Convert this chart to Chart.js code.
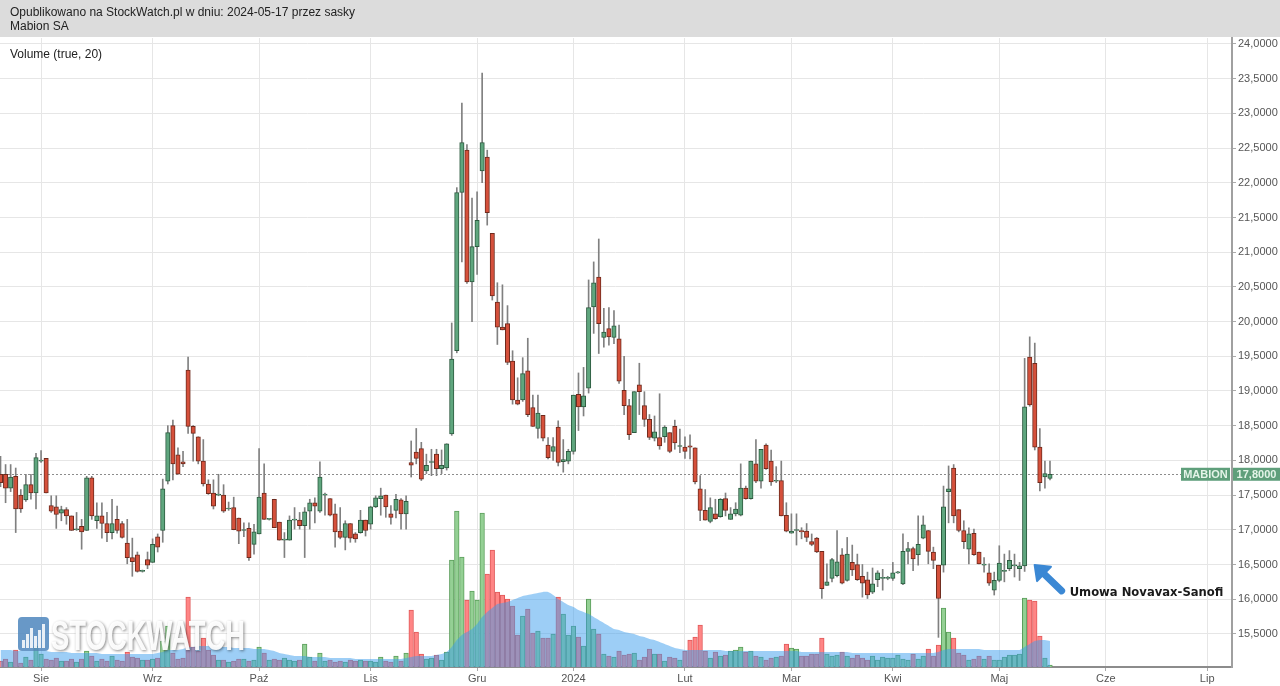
<!DOCTYPE html>
<html><head><meta charset="utf-8">
<script src="https://cdn.jsdelivr.net/npm/chart.js@4.4.1/dist/chart.umd.min.js"></script>
<style>
html,body{margin:0;padding:0;background:#fff;}
#wrap{position:relative;width:1280px;height:686px;overflow:hidden;background:#fff;}
canvas{position:absolute;left:0;top:0;}
#hdr{position:absolute;left:0;top:0;width:1280px;height:37px;background:#dcdcdc;font:12px "Liberation Sans",Arial,sans-serif;color:#222;}
#hdr div{position:absolute;left:10px;white-space:nowrap;}
#vol{position:absolute;left:10px;top:47px;font:12px "Liberation Sans",Arial,sans-serif;color:#222;}
</style></head><body>
<div id="wrap">
<canvas id="c" width="1280" height="686"></canvas>
<div id="hdr"><div style="top:5px">Opublikowano na StockWatch.pl w dniu: 2024-05-17 przez sasky</div><div style="top:19px">Mabion SA</div></div>
<div id="vol">Volume (true, 20)</div>
</div>
<script>
// ---- DATA (session index 0 = 2023-08-01, one step per trading session) ----
const firstIndex = -8;
const opens = [
 17.80,17.80,17.60,17.77,17.50,17.43,17.65,17.53,
 17.99,18.03,17.35,17.33,17.24,17.29,17.20,17.00,17.05,16.99,
 17.75,17.13,17.20,17.09,16.96,17.15,17.09,16.81,16.60,16.64,
 16.40,16.57,16.53,16.90,16.99,17.70,18.50,18.08,17.98,19.30,
 18.49,18.34,17.99,17.66,17.53,17.50,17.50,17.30,17.32,17.17,
 16.99,17.02,16.79,16.94,17.53,17.15,17.44,17.11,16.85,16.85,
 17.14,17.14,17.06,17.27,17.39,17.27,17.50,17.45,17.23,16.98,
 16.89,17.09,16.94,16.96,17.14,17.08,17.33,17.45,17.50,17.23,
 17.28,17.43,17.23,17.97,18.12,18.17,17.85,17.97,18.09,17.88,
 17.89,18.38,19.58,21.86,22.47,20.57,21.08,22.17,22.37,21.27,
 20.28,19.92,19.97,19.43,18.87,18.87,19.29,18.76,18.46,18.65,
 18.22,18.13,18.48,17.98,17.99,18.13,18.95,18.77,19.04,20.21,
 20.64,19.77,19.90,19.77,19.75,19.01,18.79,18.40,19.09,18.79,
 18.59,18.32,18.33,18.34,18.40,18.49,18.20,18.19,18.21,18.18,
 17.59,17.28,17.12,17.23,17.19,17.45,17.15,17.23,17.21,17.60,
 17.45,17.95,17.70,18.22,17.99,17.70,17.71,17.21,16.95,16.99,
 16.99,16.98,16.83,16.88,16.69,16.20,16.30,16.34,16.64,16.27,
 16.53,16.50,16.33,16.28,16.10,16.28,16.30,16.30,16.30,16.38,
 16.22,16.69,16.73,16.64,16.88,16.99,16.68,16.49,16.49,17.55,
 17.89,17.29,16.99,16.72,16.95,16.68,16.49,16.38,16.13,16.27,
 16.40,16.44,16.48,16.44,16.48,19.49,19.40,18.19,17.76,17.74];
const highs = [
 18.06,17.94,17.94,17.89,17.58,17.80,17.80,18.10,
 18.14,18.03,17.49,17.49,17.34,17.32,17.20,17.25,17.15,17.77,
 17.77,17.39,17.39,17.25,17.44,17.34,17.12,17.15,16.88,16.68,
 16.42,16.68,16.87,16.94,17.73,18.50,18.58,18.18,18.13,19.49,
 18.50,18.34,18.30,17.72,17.72,17.80,17.65,17.40,17.47,17.17,
 17.10,17.10,17.08,18.17,17.95,17.16,17.44,17.11,16.96,17.20,
 17.32,17.25,17.32,17.44,17.46,17.98,17.53,17.45,17.37,17.32,
 17.13,17.09,16.96,17.28,17.14,17.34,17.49,17.60,17.50,17.35,
 17.51,17.45,17.49,18.28,18.46,18.26,18.09,18.16,18.16,18.15,
 18.24,19.98,21.93,23.15,22.55,21.78,21.87,23.58,22.47,21.27,
 20.56,20.53,20.23,19.58,19.19,19.48,19.76,18.94,18.94,18.65,
 18.33,18.33,18.57,18.30,18.16,18.94,19.26,19.34,20.60,20.86,
 21.19,20.19,20.20,20.16,19.95,19.50,18.88,18.99,19.40,18.99,
 18.66,18.64,18.96,18.50,18.40,18.58,18.45,18.34,18.37,18.18,
 17.78,17.58,17.46,17.44,17.45,17.53,17.32,17.39,17.95,17.63,
 17.99,18.30,18.16,18.24,18.15,17.91,17.99,17.39,17.23,17.23,
 17.03,17.09,16.94,16.89,16.69,16.51,16.59,16.99,16.73,16.89,
 16.78,16.65,16.50,16.39,16.45,16.41,16.43,16.33,16.53,16.40,
 16.94,16.82,16.75,17.20,17.20,16.99,16.75,16.49,17.63,17.92,
 17.94,17.29,17.13,17.03,17.01,16.68,16.60,16.51,16.39,16.77,
 16.65,16.70,16.65,16.53,19.47,19.78,19.69,18.46,17.99,17.99];
const lows = [
 17.62,17.39,17.55,16.96,17.25,17.41,17.44,17.30,
 17.97,17.53,17.25,17.02,17.13,17.08,16.99,16.99,16.72,16.99,
 17.15,17.02,16.88,16.83,16.87,16.95,16.88,16.51,16.33,16.39,
 16.39,16.44,16.53,16.68,16.82,17.66,17.72,17.80,17.91,18.39,
 17.99,17.95,17.63,17.51,17.30,17.49,17.25,17.28,17.00,16.80,
 16.90,16.56,16.65,16.94,17.15,17.14,17.03,16.85,16.60,16.85,
 17.01,17.01,16.60,17.01,17.10,17.25,17.21,17.20,16.75,16.87,
 16.71,16.82,16.82,16.95,16.91,17.01,17.32,17.21,17.18,17.08,
 17.17,17.01,17.01,17.76,17.95,17.71,17.81,17.78,17.78,17.81,
 17.86,18.36,19.55,20.86,20.55,20.00,20.68,22.00,21.39,20.31,
 19.67,19.88,19.38,18.81,18.80,18.85,18.63,18.49,18.32,18.28,
 18.02,18.00,17.92,17.83,17.95,18.09,18.43,18.64,18.97,19.83,
 19.54,19.63,19.66,19.68,19.11,18.66,18.30,18.40,18.66,18.49,
 18.30,18.28,18.16,18.26,18.11,18.16,18.11,18.03,18.02,17.66,
 17.13,17.14,17.10,17.15,17.18,17.20,17.15,17.20,17.20,17.44,
 17.44,17.68,17.60,17.87,17.64,17.68,17.20,16.97,16.95,16.78,
 16.87,16.83,16.77,16.67,16.01,16.20,16.25,16.32,16.22,16.26,
 16.34,16.27,16.03,16.01,16.08,16.18,16.13,16.28,16.27,16.37,
 16.21,16.51,16.41,16.49,16.87,16.51,16.44,15.45,16.39,17.10,
 17.10,16.97,16.73,16.51,16.63,16.51,16.39,16.20,16.06,16.25,
 16.25,16.41,16.32,16.27,16.40,18.78,18.15,17.56,17.60,17.72];
const closes = [
 17.68,17.60,17.76,17.30,17.30,17.65,17.53,18.04,
 17.99,17.53,17.27,17.22,17.29,17.20,16.99,17.00,16.97,17.75,
 17.20,17.20,17.09,16.96,17.09,16.99,16.89,16.60,16.54,16.40,
 16.40,16.49,16.79,16.75,17.59,18.40,17.95,17.80,17.95,18.49,
 18.39,17.99,17.66,17.52,17.34,17.50,17.27,17.30,17.00,16.98,
 16.99,16.60,16.97,17.47,17.15,17.15,17.03,16.85,16.85,17.14,
 17.14,17.06,17.26,17.39,17.34,17.76,17.50,17.21,16.97,16.89,
 17.09,16.88,16.87,17.14,16.99,17.33,17.46,17.49,17.33,17.18,
 17.44,17.23,17.41,17.93,18.03,17.73,17.93,17.97,17.88,17.93,
 18.24,19.46,21.86,22.58,20.57,21.08,21.46,22.58,21.57,20.37,
 19.92,19.88,19.41,18.87,18.81,19.25,18.66,18.49,18.68,18.32,
 18.04,18.20,17.97,18.01,18.13,18.94,18.77,18.93,20.20,20.56,
 19.97,19.85,19.78,19.94,19.14,18.79,18.37,18.99,18.99,18.59,
 18.33,18.41,18.21,18.48,18.13,18.25,18.20,18.13,18.19,17.69,
 17.28,17.14,17.32,17.16,17.44,17.28,17.23,17.30,17.60,17.45,
 17.99,17.70,18.16,17.88,17.69,17.70,17.20,16.98,16.98,16.99,
 16.97,16.89,16.79,16.68,16.15,16.25,16.57,16.54,16.23,16.65,
 16.42,16.28,16.23,16.06,16.22,16.38,16.30,16.30,16.38,16.38,
 16.69,16.73,16.58,16.79,17.07,16.69,16.56,16.01,17.33,17.59,
 17.20,16.99,16.83,16.94,16.64,16.51,16.49,16.23,16.27,16.52,
 16.40,16.56,16.48,16.48,18.77,18.80,18.19,17.68,17.81,17.80];
const volumes = [
 6,8,5,17,4,10,7,21,
 13,8,7,9,6,6,8,5,8,16,
 11,6,8,6,11,7,6,15,10,9,
 7,7,8,9,26,41,14,8,9,70,
 20,16,29,17,12,7,7,5,6,8,
 8,6,7,20,14,7,8,7,9,7,
 6,7,23,10,6,14,6,7,5,6,
 5,7,6,7,6,6,5,10,6,5,
 11,6,14,57,35,13,8,9,12,7,
 15,107,156,110,67,76,67,154,93,117,
 75,72,68,61,32,51,58,34,36,29,
 29,33,70,53,32,41,30,21,68,38,
 33,13,11,10,16,12,13,14,7,10,
 18,13,13,6,10,9,7,16,27,30,
 42,16,9,15,11,12,16,17,20,15,
 16,11,10,7,9,10,11,23,19,18,
 11,11,13,13,29,13,11,12,15,11,
 9,12,9,7,11,7,10,9,9,12,
 8,7,13,8,11,18,11,22,59,35,
 29,14,12,7,8,11,8,11,7,7,
 10,12,12,13,69,67,66,31,9,2];
const volumeMA20 = [
 17,17,17,16,16,16,16,16,
 16,16,15,15,15,15,14,14,14,14,
 14,14,13,13,13,13,13,13,13,13,
 13,13,13,14,15,17,17,17,18,20,
 20,21,21,21,20,20,20,20,19,19,
 19,19,18,18,18,17,16,14,13,12,
 11,11,11,10,10,10,10,9,9,9,
 9,9,8,8,8,8,8,8,8,8,
 8,8,9,10,11,11,11,11,12,13,
 15,20,27,32,35,38,43,50,55,59,
 63,64,65,67,69,71,72,73,74,75,
 75,72,68,65,62,60,57,55,53,50,
 47,44,41,38,37,35,34,33,31,30,
 28,27,25,23,21,19,18,17,17,17,
 17,17,17,17,17,16,16,16,16,16,
 16,16,16,16,16,16,16,16,16,16,
 15,15,15,15,15,15,15,15,15,15,
 14,14,14,14,14,14,14,14,14,14,
 14,14,14,14,14,14,14,15,17,18,
 18,18,18,18,18,18,17,17,17,17,
 17,17,17,17,20,23,26,27,27,26];
const monthTickIdx = [0,22,43,65,86,105,127,148,168,189,210,230];
const monthLabels = ['Sie','Wrz','Paź','Lis','Gru','2024','Lut','Mar','Kwi','Maj','Cze','Lip'];
const priceTicks = [15.5,16.0,16.5,17.0,17.5,18.0,18.5,19.0,19.5,20.0,20.5,21.0,21.5,22.0,22.5,23.0,23.5,24.0];
const xRange = [-8.1, 234.9];
const priceRange = [15.023, 24.086];
const volumeRange = [0, 629];
const tickerName = 'MABION';
const annotationIdx = 194;
const annotationText = 'Umowa Novavax-Sanofi';

// ---- BUILD ----
const idx = opens.map((_, i) => firstIndex + i);
const up = opens.map((o, i) => closes[i] >= o);
const fmt = v => v.toFixed(4).replace('.', ',');
const FONT = '"Liberation Sans", Arial, sans-serif';

const overlay = {
  id: 'overlay',
  beforeDatasetsDraw(chart) {
    const {ctx, chartArea: a, scales: {y}} = chart;
    const py = Math.round(y.getPixelForValue(closes[closes.length - 1])) + 0.5;
    ctx.save();
    ctx.strokeStyle = '#8c8c8c'; ctx.lineWidth = 1; ctx.setLineDash([2, 2]);
    ctx.beginPath(); ctx.moveTo(a.left, py); ctx.lineTo(a.right, py); ctx.stroke();
    ctx.restore();
  },
  afterDatasetsDraw(chart) {
    const {ctx} = chart;
    // watermark
    ctx.save();
    ctx.globalAlpha = 0.85;
    ctx.fillStyle = '#4d86bd';
    ctx.beginPath(); ctx.roundRect(18, 617, 31, 34, 4); ctx.fill();
    ctx.fillStyle = '#ffffff';
    [[22,640],[26,634],[30,628],[34,636],[38,630],[42,624]].forEach(([bx, by]) => ctx.fillRect(bx, by, 3, 648 - by));
    ctx.restore();
    ctx.save();
    ctx.font = 'bold 43px ' + FONT;
    const w = ctx.measureText('STOCKWATCH').width;
    ctx.translate(51, 650); ctx.scale(194 / w, 1);
    ctx.shadowColor = 'rgba(0,0,0,0.5)'; ctx.shadowBlur = 3; ctx.shadowOffsetX = 1; ctx.shadowOffsetY = 1;
    ctx.fillStyle = 'rgba(255,255,255,0.95)';
    ctx.fillText('STOCKWATCH', 0, 0);
    ctx.restore();
  },
  afterDraw(chart) {
    const {ctx, chartArea: a, scales: {x, y}} = chart;
    const last = closes[closes.length - 1];
    const py = y.getPixelForValue(last);
    ctx.save();
    // price tag boxes
    ctx.fillStyle = '#5f9f7b';
    ctx.fillRect(a.right - 51, py - 6.5, 49, 13);
    ctx.fillRect(a.right + 1, py - 6.5, 47, 13);
    ctx.fillStyle = '#e4f4e8';
    ctx.font = 'bold 11px ' + FONT; ctx.textBaseline = 'middle'; ctx.textAlign = 'center';
    ctx.fillText(tickerName, a.right - 26.5, py + 0.5);
    ctx.fillText(fmt(last), a.right + 24.5, py + 0.5);
    // annotation arrow
    const ax = x.getPixelForValue(annotationIdx) + 10;
    const ay = y.getPixelForValue(opens[annotationIdx - firstIndex]) - 1;
    const tail = [ax + 27, ay + 26];
    const dx = ax - tail[0], dy = ay - tail[1];
    const L = Math.hypot(dx, dy), ux = dx / L, uy = dy / L, px = -uy, pyy = ux;
    const bx = ax - ux * 13, by = ay - uy * 13;
    ctx.strokeStyle = '#3b88d4'; ctx.fillStyle = '#3b88d4';
    ctx.lineWidth = 7; ctx.lineCap = 'round';
    ctx.beginPath(); ctx.moveTo(tail[0], tail[1]); ctx.lineTo(bx + ux * 2, by + uy * 2); ctx.stroke();
    ctx.beginPath(); ctx.moveTo(ax, ay);
    ctx.lineTo(bx + px * 10, by + pyy * 10); ctx.lineTo(bx - px * 10, by - pyy * 10); ctx.closePath();
    ctx.lineJoin = 'round'; ctx.lineWidth = 2; ctx.fill(); ctx.stroke();
    ctx.fillStyle = '#1a1a1a'; ctx.textAlign = 'left'; ctx.textBaseline = 'middle';
    ctx.font = 'bold 11.6px "DejaVu Sans", sans-serif';
    ctx.fillText(annotationText, ax + 35, ay + 28);
    ctx.restore();
  }
};

new Chart(document.getElementById('c'), {
  type: 'bar',
  data: {
    datasets: [
      {
        label: 'body', order: 1, grouped: false, yAxisID: 'y',
        data: idx.map((v, i) => ({x: v, y: [opens[i], closes[i]]})),
        backgroundColor: up.map(u => u ? '#5fa67e' : '#d5503b'),
        borderColor: up.map(u => u ? '#2c5a3f' : '#6e2a1d'),
        borderWidth: 1, borderSkipped: false, barThickness: 4.4, minBarLength: 1
      },
      {
        label: 'wick', order: 2, grouped: false, yAxisID: 'y',
        data: idx.map((v, i) => ({x: v, y: [lows[i], highs[i]]})),
        backgroundColor: '#808080', borderWidth: 0, barThickness: 1
      },
      {
        type: 'line', label: 'MA', order: 3, yAxisID: 'yv',
        data: idx.map((v, i) => ({x: v, y: volumeMA20[i]})),
        fill: 'origin', backgroundColor: 'rgba(60,158,238,0.5)',
        borderWidth: 0, pointRadius: 0, tension: 0.2
      },
      {
        label: 'volume', order: 4, grouped: false, yAxisID: 'yv',
        data: idx.map((v, i) => ({x: v, y: volumes[i]})),
        backgroundColor: up.map(u => u ? '#94d094' : '#ff8585'),
        borderColor: up.map(u => u ? '#5b9e5b' : '#e05a5a'),
        borderWidth: 1, barThickness: 4.6
      }
    ]
  },
  options: {
    responsive: false, animation: false, devicePixelRatio: 1,
    layout: {padding: {top: 38, left: 0, right: 0, bottom: 0}},
    plugins: {legend: {display: false}, tooltip: {enabled: false}},
    scales: {
      x: {
        type: 'linear', min: xRange[0], max: xRange[1], offset: false,
        grid: {offset: false, color: '#e6e6e6', tickLength: 4, tickColor: '#aaa'},
        border: {display: true, color: '#8c8c8c', width: 2},
        afterBuildTicks: s => { s.ticks = monthTickIdx.map(v => ({value: v})); },
        afterFit: s => { s.height = 19; },
        ticks: {autoSkip: false, maxRotation: 0, padding: 1, color: '#555', font: {family: FONT, size: 11},
          callback: v => { const k = monthTickIdx.indexOf(v); return k >= 0 ? monthLabels[k] : ''; }}
      },
      y: {
        type: 'linear', position: 'right', min: priceRange[0], max: priceRange[1],
        grid: {color: '#e6e6e6', tickLength: 4, tickColor: '#aaa'},
        border: {display: true, color: '#a0a0a0', width: 2},
        afterBuildTicks: s => { s.ticks = priceTicks.map(v => ({value: v})); },
        afterFit: s => { s.width = 48; },
        ticks: {padding: 2, color: '#555', font: {family: FONT, size: 11}, callback: v => fmt(v)}
      },
      yv: {type: 'linear', display: false, min: volumeRange[0], max: volumeRange[1]}
    }
  },
  plugins: [overlay]
});
</script>
</body></html>
